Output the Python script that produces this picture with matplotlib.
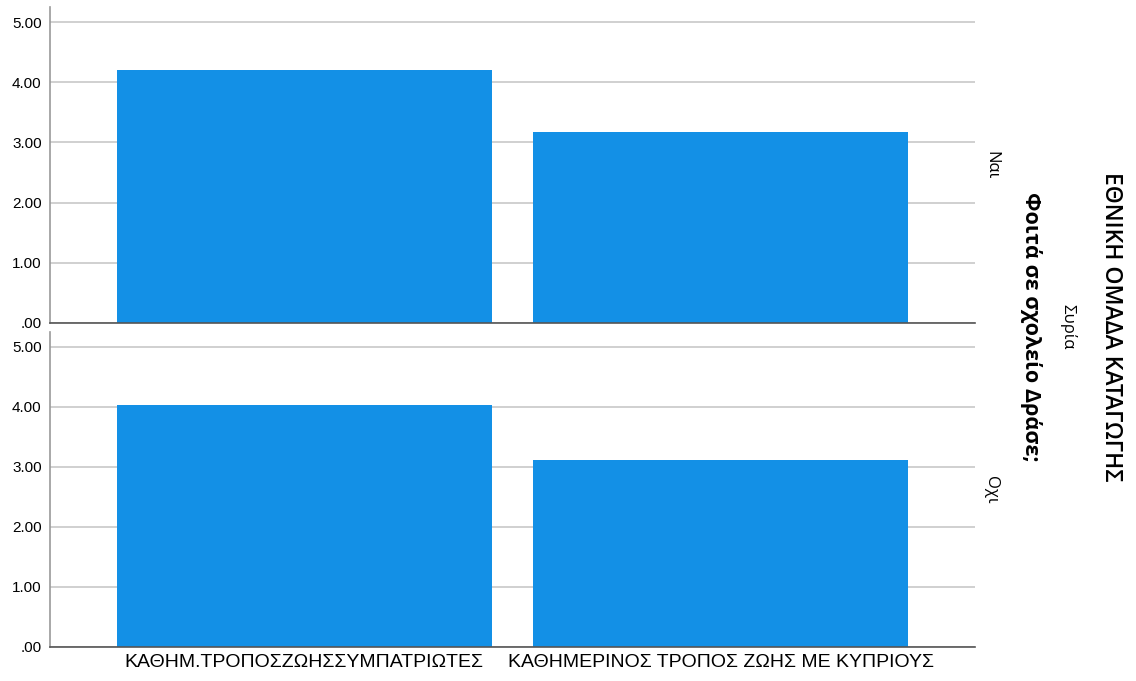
import matplotlib
matplotlib.use('Agg')
import matplotlib.pyplot as plt

categories = ['ΚΑΘΗΜ.ΤΡΟΠΟΣΖΩΗΣΣΥΜΠΑΤΡΙΩΤΕΣ', 'ΚΑΘΗΜΕΡΙΝΟΣ ΤΡΟΠΟΣ ΖΩΗΣ ΜΕ ΚΥΠΡΙΟΥΣ']
panel_labels = ['Ναι', 'Οχι']
values_nai = [4.20, 3.17]
values_oxi = [4.03, 3.12]
yticks = [0, 1, 2, 3, 4, 5]
ytick_labels = ['.00', '1.00', '2.00', '3.00', '4.00', '5.00']

bar_color = '#1390E6'
grid_color = '#C8C8C8'

fig = plt.figure(figsize=(11.36, 6.81), dpi=100)
ax_top = fig.add_axes([0.044, 0.5257, 0.814, 0.464])
ax_bot = fig.add_axes([0.044, 0.050, 0.814, 0.4625])

for ax, vals, lab in [(ax_top, values_nai, panel_labels[0]), (ax_bot, values_oxi, panel_labels[1])]:
    x = range(len(categories))
    ax.bar(x, vals, width=0.9, color=bar_color, zorder=3)
    ax.set_xlim(-0.61, 1.61)
    ax.set_ylim(0, 5.25)
    ax.set_yticks(yticks)
    ax.set_yticklabels(ytick_labels, fontsize=11, family='Liberation Sans')
    ax.yaxis.grid(True, color=grid_color, linewidth=1.2, zorder=0)
    ax.tick_params(axis='y', length=0, pad=6)
    ax.tick_params(axis='x', length=0)
    for s in ['top', 'right']:
        ax.spines[s].set_visible(False)
    ax.spines['left'].set_color('#999999')
    ax.spines['left'].set_linewidth(1.2)
    ax.spines['bottom'].set_color('#555555')
    ax.spines['bottom'].set_linewidth(1.2)
    ax.spines['bottom'].set_zorder(4)
    ax.text(1.009, 0.5, lab, transform=ax.transAxes, rotation=-90, ha='left', va='center',
            fontsize=12, family='Open Sans')

ax_top.set_xticks([])
ax_bot.set_xticks(range(len(categories)))
ax_bot.set_xticklabels(categories, fontsize=14, family='Liberation Sans')
ax_bot.tick_params(axis='x', pad=5)

fig.text(0.908, 0.52, 'Φοιτά σε σχολείο Δράσε;', rotation=-90, ha='center', va='center',
         fontsize=15.5, fontweight='bold', family='Open Sans')
fig.text(0.940, 0.52, 'Συρία', rotation=-90, ha='center', va='center',
         fontsize=12, family='Open Sans')
fig.text(0.978, 0.52, 'ΕΘΝΙΚΗ ΟΜΑΔΑ ΚΑΤΑΓΩΓΗΣ', rotation=-90, ha='center', va='center',
         fontsize=16.5, fontweight='semibold', family='Open Sans')

fig.savefig('out.png', dpi=100)
